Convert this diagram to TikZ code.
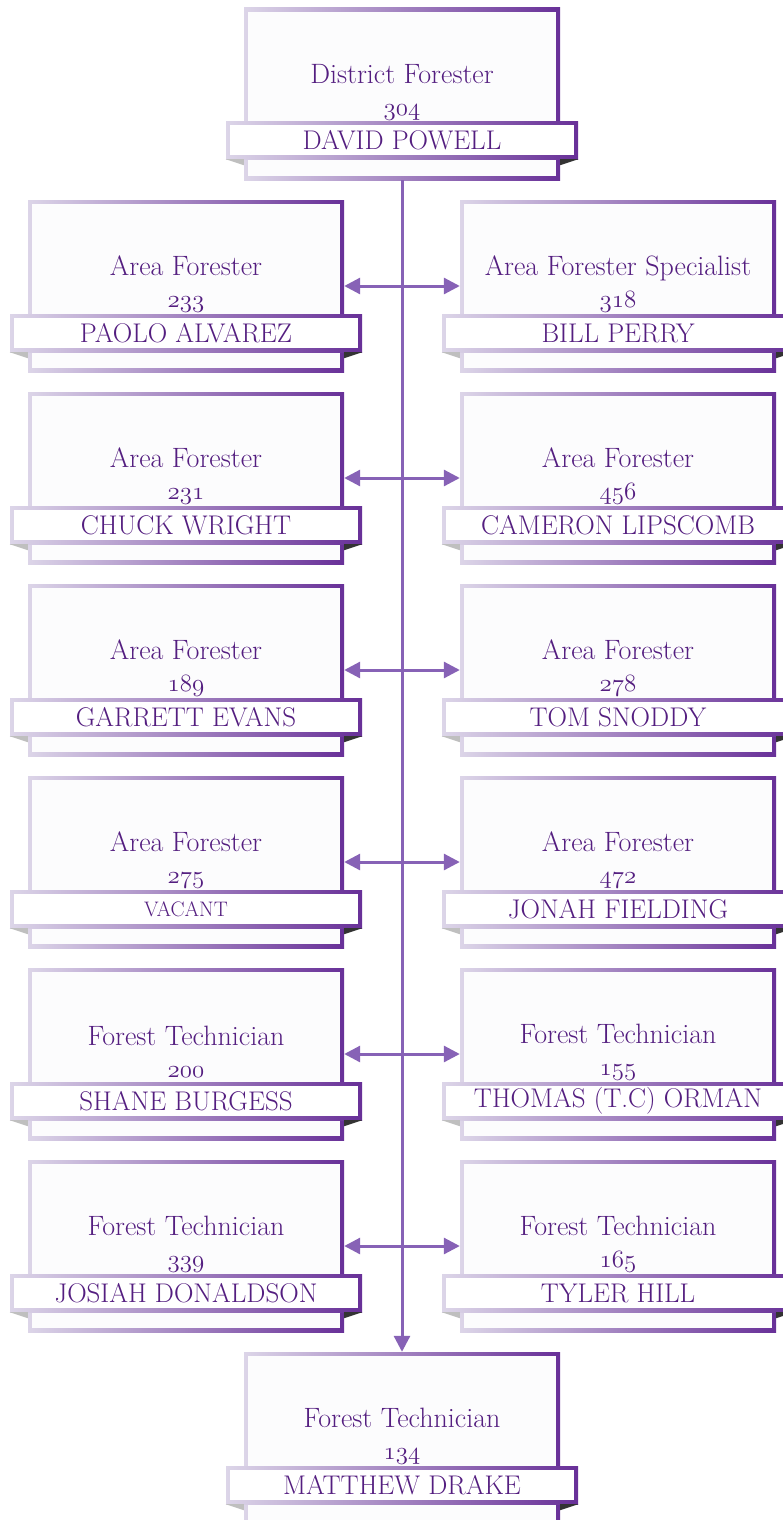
\documentclass[tikz,border=0pt]{standalone}
\usepackage{tikz}
\usepackage{xcolor}
\usetikzlibrary{arrows.meta,positioning,calc}
\definecolor{frameL}{RGB}{220,213,232}
\definecolor{frameR}{RGB}{104,48,152}
\definecolor{boxfill}{RGB}{252,252,253}
\definecolor{ink}{RGB}{84,30,128}
\definecolor{linkc}{RGB}{135,98,182}
\newcommand{\ofig}[1]{{\usefont{OML}{cmm}{m}{it}#1}}

\begin{document}
\begin{tikzpicture}[x=1pt, y=-1pt, >={Triangle[length=16pt, width=16pt]},
  posbox/.style={minimum width=316pt, minimum height=172pt, inner sep=0pt,
    left color=frameL, right color=frameR,
    path picture={\fill[boxfill] ([shift={(4pt,-4pt)}]path picture bounding box.north west)
      rectangle ([shift={(-4pt,4pt)}]path picture bounding box.south east);}},
  namebar/.style={minimum width=352pt, minimum height=38pt, inner sep=0pt,
    left color=frameL, right color=frameR, text=ink, font=\fontsize{27}{30}\selectfont,
    path picture={\fill[white] ([shift={(4pt,-4pt)}]path picture bounding box.north west)
      rectangle ([shift={(-4pt,4pt)}]path picture bounding box.south east);}},
  jobtext/.style={align=center, text=ink, font=\fontsize{28}{32}\selectfont},
  link/.style={linkc, line width=3pt}]
\useasboundingbox (0,0) rectangle (782,1520);

% main line
\node[posbox] (df304) at (402,94) {};
\node[posbox] (ft134) at (402,1438) {};
\draw[link, ->] (df304.south) -- (ft134.north);

% left column
\node[posbox] (af233) at (186,286) {};
\node[posbox] (af231) at (186,478) {};
\node[posbox] (af189) at (186,670) {};
\node[posbox] (af275) at (186,862) {};
\node[posbox] (ft200) at (186,1054) {};
\node[posbox] (ft339) at (186,1246) {};

% right column
\node[posbox] (af318) at (618,286) {};
\node[posbox] (af456) at (618,478) {};
\node[posbox] (af278) at (618,670) {};
\node[posbox] (af472) at (618,862) {};
\node[posbox] (ft155) at (618,1054) {};
\node[posbox] (ft165) at (618,1246) {};

% side links
\draw[link, <->] (af233.east) -- (af318.west);
\draw[link, <->] (af231.east) -- (af456.west);
\draw[link, <->] (af189.east) -- (af278.west);
\draw[link, <->] (af275.east) -- (af472.west);
\draw[link, <->] (ft200.east) -- (ft155.west);
\draw[link, <->] (ft339.east) -- (ft165.west);

% titles
\node[jobtext] (tx304) at (402,92) {District Forester\\\ofig{304}};
\node[jobtext] (tx134) at (402,1436) {Forest Technician\\\ofig{134}};
\node[jobtext] (tx233) at (186,284) {Area Forester\\\ofig{233}};
\node[jobtext] (tx231) at (186,476) {Area Forester\\\ofig{231}};
\node[jobtext] (tx189) at (186,668) {Area Forester\\\ofig{189}};
\node[jobtext] (tx275) at (186,860) {Area Forester\\\ofig{275}};
\node[jobtext] (tx200) at (186,1052) {Forest Technician\\\ofig{200}};
\node[jobtext] (tx339) at (186,1244) {Forest Technician\\\ofig{339}};
\node[jobtext] (tx318) at (618,284) {Area Forester Specialist\\\ofig{318}};
\node[jobtext] (tx456) at (618,476) {Area Forester\\\ofig{456}};
\node[jobtext] (tx278) at (618,668) {Area Forester\\\ofig{278}};
\node[jobtext] (tx472) at (618,860) {Area Forester\\\ofig{472}};
\node[jobtext] (tx155) at (618,1052) {Forest Technician\\\ofig{155}};
\node[jobtext] (tx165) at (618,1244) {Forest Technician\\\ofig{165}};

% name bars
\node[namebar] (nm304) at (402,140) {DAVID POWELL};
\node[namebar] (nm134) at (402,1485) {MATTHEW DRAKE};
\node[namebar] (nm233) at (186,333) {PAOLO ALVAREZ};
\node[namebar] (nm231) at (186,525) {CHUCK WRIGHT};
\node[namebar] (nm189) at (186,717) {GARRETT EVANS};
\node[namebar, font=\fontsize{21}{24}\selectfont] (nm275) at (186,909) {VACANT};
\node[namebar] (nm200) at (186,1101) {SHANE BURGESS};
\node[namebar] (nm339) at (186,1293) {JOSIAH DONALDSON};
\node[namebar] (nm318) at (618,333) {BILL PERRY};
\node[namebar] (nm456) at (618,525) {CAMERON LIPSCOMB};
\node[namebar] (nm278) at (618,717) {TOM SNODDY};
\node[namebar] (nm472) at (618,909) {JONAH FIELDING};
\node[namebar] (nm155) at (618,1101) {THOMAS (T.C) ORMAN};
\node[namebar] (nm165) at (618,1293) {TYLER HILL};

% ribbon folds
\foreach \n in {nm304,nm134,nm233,nm231,nm189,nm275,nm200,nm339,nm318,nm456,nm278,nm472,nm155,nm165} {
  \fill[black!25] (\n.south west) -- ++(18pt,0) -- ++(0,-6pt) -- cycle;
  \fill[black!80] (\n.south east) -- ++(-18pt,0) -- ++(0,-6pt) -- cycle;
}
\end{tikzpicture}
\end{document}
